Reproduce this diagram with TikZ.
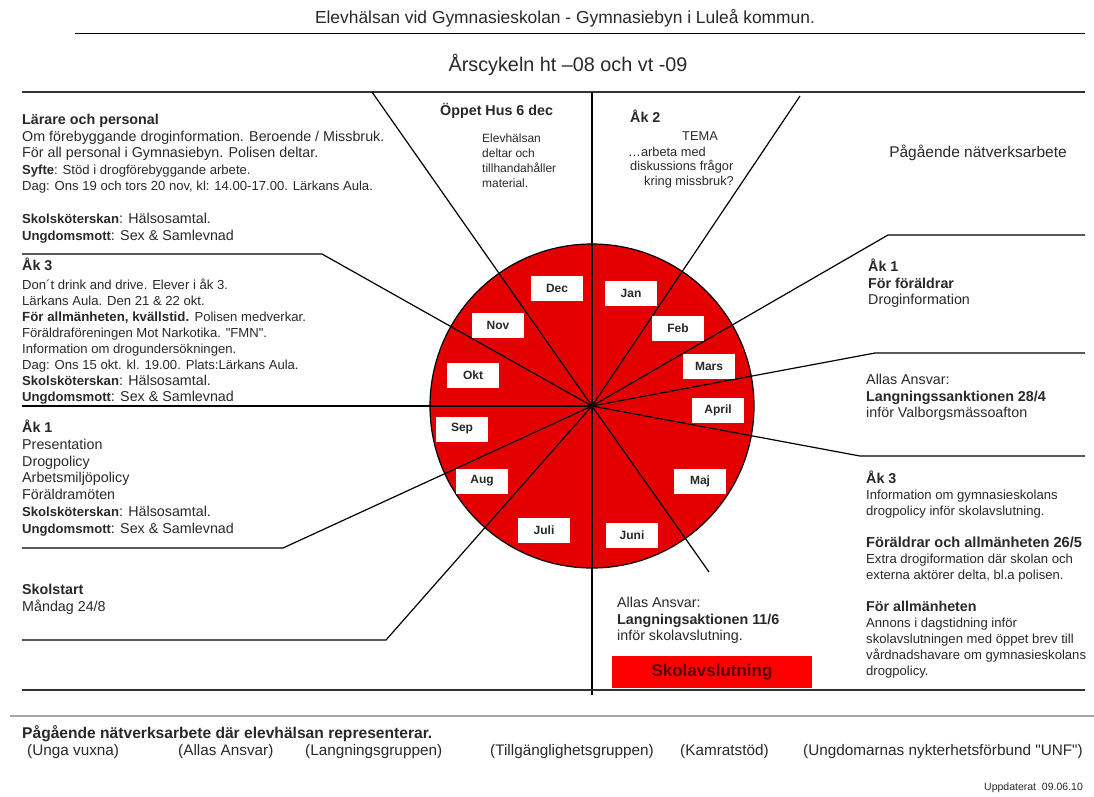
\documentclass[tikz,border=0pt]{standalone}
\usepackage{fontspec}
\setmainfont{Liberation Sans}[Ligatures=TeXOff]
\usetikzlibrary{positioning}

\newcommand\fsbody{\fontsize{14.3}{16.5}\selectfont}
\newcommand\fssmall{\fontsize{13.1}{16.5}\selectfont}
\newcommand\fsmid{\fontsize{12.8}{15}\selectfont}
\definecolor{wheelred}{RGB}{228,0,0}
\definecolor{darkred}{RGB}{90,0,0}
\definecolor{ink}{RGB}{40,40,40}

\begin{document}
\begin{tikzpicture}[x=1pt,y=-1pt,
    rule/.style={line width=1.6pt,draw=black!80},
    spoke/.style={line width=1.2pt,draw=black},
    month/.style={shape=rectangle,fill=white,minimum width=52pt,minimum height=25pt,inner sep=0pt,font=\bfseries\fontsize{12}{14}\selectfont,text=ink},
    blk/.style={anchor=north west,align=left,inner sep=0pt,font=\fsbody,text=ink},
    smblk/.style={anchor=north west,align=left,inner sep=0pt,font=\fsmid,text=ink},
    lbl/.style={anchor=west,inner sep=0pt,text=ink}]
    \useasboundingbox (0,0) rectangle (1094,796);

    % header
    \node (title) at (565,18) [inner sep=0pt,font=\fontsize{17.4}{20}\selectfont,text=ink] {Elevhälsan vid Gymnasieskolan - Gymnasiebyn i Luleå kommun.};
    \coordinate (hl) at (75,33);
    \coordinate (hr) at (1085,33);
    \draw[line width=1pt] (hl) -- (hr);
    \node (cycle) at (568,65) [inner sep=0pt,font=\fontsize{19.8}{22}\selectfont,text=ink] {Årscykeln ht –08 och vt -09};
    \coordinate (tl) at (22,92);
    \coordinate (tr) at (1085,92);
    \draw[rule] (tl) -- (tr);

    % wheel
    \coordinate (c) at (592,406);
    \draw[fill=wheelred,line width=1.2pt] (c) circle (162pt);

    \coordinate (pTop) at (592,92);
    \coordinate (pBot) at (592,695);
    \coordinate (pDec) at (372,92);
    \coordinate (pNov) at (322,254);   \coordinate (eNov) at (22,254);
    \coordinate (pOkt) at (22,406);
    \coordinate (pSep) at (283,548);   \coordinate (eSep) at (22,548);
    \coordinate (pAug) at (386,640);   \coordinate (eAug) at (22,640);
    \coordinate (pJun) at (709,572);
    \coordinate (pMaj) at (860,456);   \coordinate (eMaj) at (1085,456);
    \coordinate (pApr) at (875,353);   \coordinate (eApr) at (1085,353);
    \coordinate (pMar) at (888,235);   \coordinate (eMar) at (1085,235);
    \coordinate (pFeb) at (800,96);

    \foreach \p in {pTop,pBot,pDec,pOkt,pJun,pFeb}
    \draw[spoke] (c) -- (\p);
    \foreach \p/\e in {pNov/eNov,pSep/eSep,pAug/eAug,pMaj/eMaj,pApr/eApr,pMar/eMar}
    \draw[spoke] (c) -- (\p) -- (\e);

    \foreach \m/\px/\py in {Dec/557/288,Jan/631/293,Nov/498/325,Feb/678/328,Mars/709/366,Okt/473/375,April/718/410,Sep/462/429,Aug/482/481,Maj/700/481,Juli/544/530,Juni/632/535}
    \node (m\m) at (\px,\py) [month] {\m};

    % left column
    \node (larare) at (22,114) [blk] {\textbf{Lärare och personal}\\
        Om förebyggande droginformation. Beroende / Missbruk.\\
        För all personal i Gymnasiebyn. Polisen deltar.\\
        {\fssmall\textbf{Syfte}: Stöd i drogförebyggande arbete.}\\
        {\fssmall Dag: Ons 19 och tors 20 nov, kl: 14.00-17.00. Lärkans Aula.}\\[16.5pt]
        {\fssmall\textbf{Skolsköterskan}}: Hälsosamtal.\\
        {\fssmall\textbf{Ungdomsmott}}: Sex \& Samlevnad};
    \node (ak3v) at (22,258) [blk,font=\fontsize{14.3}{16}\selectfont] {\textbf{Åk 3}\\[3pt]
        {\fssmall Don´t drink and drive. Elever i åk 3.}\\
        {\fssmall Lärkans Aula. Den 21 \& 22 okt.}\\
        {\fontsize{13.3}{16}\selectfont\textbf{För allmänheten, kvällstid.}} {\fssmall Polisen medverkar.}\\
        {\fssmall Föräldraföreningen Mot Narkotika. "FMN".}\\
        {\fssmall Information om drogundersökningen.}\\
        {\fssmall Dag: Ons 15 okt. kl. 19.00. Plats:Lärkans Aula.}\\
        {\fssmall\textbf{Skolsköterskan}}: Hälsosamtal.\\
        {\fssmall\textbf{Ungdomsmott}}: Sex \& Samlevnad};
    \node (ak1v) at (22,420) [blk,font=\fontsize{14.3}{16.7}\selectfont] {\textbf{Åk 1}\\
        Presentation\\
        Drogpolicy\\
        Arbetsmiljöpolicy\\
        Föräldramöten\\
        {\fssmall\textbf{Skolsköterskan}}: Hälsosamtal.\\
        {\fssmall\textbf{Ungdomsmott}}: Sex \& Samlevnad};
    \node (start) at (22,584) [blk] {\textbf{Skolstart}\\ Måndag 24/8};

    % top middle
    \node (oppet) at (440,103) [blk] {\textbf{Öppet Hus 6 dec}};
    \node (oppettxt) at (482,134) [smblk,font=\fontsize{12}{15}\selectfont] {Elevhälsan\\ deltar och\\ tillhandahåller\\ material.};
    \node (ak2) at (630,110) [blk] {\textbf{Åk 2}};
    \node (tema) at (700,136) [inner sep=0pt,font=\fsmid,text=ink] {TEMA};
    \node (tema1) at (628,152) [lbl,font=\fsmid] {…arbeta med};
    \node (tema2) at (630,167) [lbl,font=\fsmid] {diskussions frågor};
    \node (tema3) at (644,182) [lbl,font=\fsmid] {kring missbruk?};
    \node (natverk) at (978,153) [inner sep=0pt,font=\fontsize{15.5}{18}\selectfont,text=ink] {Pågående nätverksarbete};

    % right column
    \node (ak1h) at (868,259) [blk] {\textbf{Åk 1}\\ \textbf{För föräldrar}\\ Droginformation};
    \node (sank) at (866,374) [blk] {Allas Ansvar:\\ \textbf{Langningssanktionen 28/4}\\ inför Valborgsmässoafton};
    \node (ak3h) at (866,471) [blk,font=\fontsize{14.3}{16}\selectfont] {\textbf{Åk 3}\\
        {\fssmall Information om gymnasieskolans}\\
        {\fssmall drogpolicy inför skolavslutning.}};
    \node (foral) at (866,537) [blk,font=\fontsize{14.6}{16}\selectfont] {\textbf{Föräldrar och allmänheten 26/5}\\
        {\fssmall Extra drogiformation där skolan och}\\
        {\fssmall externa aktörer delta, bl.a polisen.}};
    \node (allm) at (866,601) [blk,font=\fontsize{14.3}{16}\selectfont] {\textbf{För allmänheten}\\
        {\fssmall Annons i dagstidning inför}\\
        {\fssmall skolavslutningen med öppet brev till}\\
        {\fssmall vårdnadshavare om gymnasieskolans}\\
        {\fssmall drogpolicy.}};

    % bottom middle
    \node (aktion) at (617,597) [blk] {Allas Ansvar:\\ \textbf{Langningsaktionen 11/6}\\ inför skolavslutning.};
    \node (slut) at (712,672) [shape=rectangle,fill=red,minimum width=200pt,minimum height=32pt,inner sep=0pt,font=\bfseries\fontsize{17}{19}\selectfont,text=darkred] {Skolavslutning};

    % bottom rules
    \coordinate (bl) at (22,690);
    \coordinate (br) at (1085,690);
    \draw[rule] (bl) -- (br);
    \coordinate (gl) at (10,716);
    \coordinate (gr) at (1094,716);
    \draw[line width=1.5pt,draw=black!35] (gl) -- (gr);

    % network list
    \node (nathead) at (22,734) [lbl,font=\bfseries\fontsize{15.6}{17}\selectfont] {Pågående nätverksarbete där elevhälsan representerar.};
    \foreach \n/\px/\t in {unga/27/(Unga vuxna),allas/178/(Allas Ansvar),langn/305/(Langningsgruppen),tillg/490/(Tillgänglighetsgruppen),kamrat/680/(Kamratstöd),unf/803/(Ungdomarnas nykterhetsförbund "UNF")}
    \node (\n) at (\px,752) [lbl,font=\fontsize{15.3}{17}\selectfont] {\t};
    \node (upd) at (984,788) [lbl,font=\fontsize{10.5}{12}\selectfont] {Uppdaterat\ \ 09.06.10};
\end{tikzpicture}
\end{document}
